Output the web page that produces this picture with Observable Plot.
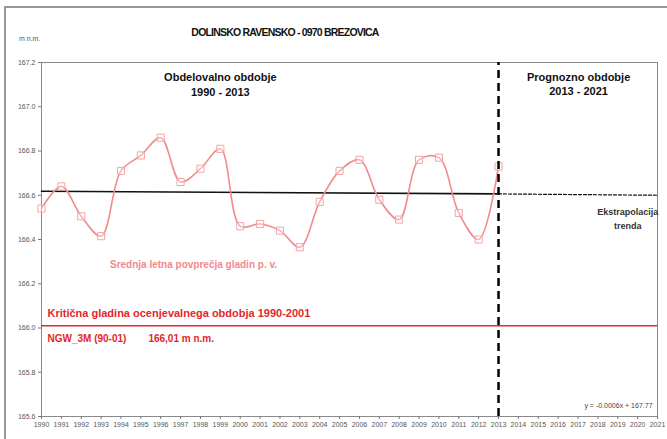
<!DOCTYPE html>
<html>
<head>
<meta charset="utf-8">
<script src="https://cdn.jsdelivr.net/npm/d3@7"></script>
<script src="https://cdn.jsdelivr.net/npm/@observablehq/plot@0.6"></script>
<style>
  html, body { margin: 0; padding: 0; background: #fff; }
  #wrap { position: relative; width: 667px; height: 439px; overflow: hidden; font-family: "Liberation Sans", Arial, sans-serif; }
  #border { position: absolute; left: 4px; top: 6px; width: 700px; height: 500px; border: 2px solid #9a9a9a; box-sizing: border-box; }
  #title { position: absolute; left: 0; width: 570px; top: 26px; text-align: center; font-weight: bold; font-size: 10.5px; letter-spacing: -0.8px; color: #111; }
  #unit { position: absolute; left: 19px; top: 35px; font-size: 7px; color: #555; }
  #chart { position: absolute; left: 0; top: 0; }
</style>
</head>
<body>
<div id="wrap">
  <div id="border"></div>
  <div id="title">DOLINSKO RAVENSKO - 0970 BREZOVICA</div>
  <div id="unit">m n.m.</div>
  <div id="chart"></div>
</div>
<script>
const years = [1990,1991,1992,1993,1994,1995,1996,1997,1998,1999,2000,2001,2002,2003,2004,2005,2006,2007,2008,2009,2010,2011,2012,2013];
const levels = [166.54,166.64,166.505,166.415,166.71,166.78,166.86,166.66,166.72,166.81,166.46,166.47,166.44,166.365,166.57,166.71,166.76,166.58,166.49,166.76,166.77,166.52,166.40,166.73];

const trendYears = [1990, 2013];
const trendValues = [166.618, 166.606];
const extrapYears = [2013, 2021];
const extrapValues = [166.606, 166.600];

const criticalLevel = 166.01;
const splitYear = 2013;

const xTicks = d3.range(1990, 2022);
const yTicks = [165.6,165.8,166.0,166.2,166.4,166.6,166.8,167.0,167.2];

const series = years.map((y, i) => ({year: y, level: levels[i]}));
const trend = trendYears.map((y, i) => ({year: y, level: trendValues[i]}));
const extrap = extrapYears.map((y, i) => ({year: y, level: extrapValues[i]}));

const lineColor = "#f08a8c";
const red = "#e3262b";
const bold = {fontWeight: "bold", fontFamily: "Liberation Sans, Arial, sans-serif"};

const chart = Plot.plot({
  width: 667,
  height: 439,
  marginLeft: 41,
  marginRight: 10,
  marginTop: 62,
  marginBottom: 23,
  style: {fontFamily: "Liberation Sans, Arial, sans-serif", background: "transparent"},
  x: {domain: [1990, 2021], ticks: xTicks, tickFormat: "d", tickSize: 3, label: null},
  y: {domain: [165.6, 167.2], ticks: yTicks, tickFormat: ".1f", tickSize: 3, label: null},
  marks: [
    Plot.frame({stroke: "#8a8a8a", strokeWidth: 1}),
    Plot.axisX({ticks: xTicks, tickFormat: "d", tickSize: 3, tickPadding: 3, fontSize: 7, color: "#555", stroke: "#777"}),
    Plot.axisY({ticks: yTicks, tickFormat: ".1f", tickSize: 3, tickPadding: 3, fontSize: 7, color: "#555", stroke: "#777"}),
    Plot.ruleY([criticalLevel], {x1: 1990, x2: 2021, stroke: red, strokeWidth: 1.5}),
    Plot.line(trend, {x: "year", y: "level", stroke: "#111", strokeWidth: 1.6}),
    Plot.line(extrap, {x: "year", y: "level", stroke: "#111", strokeWidth: 1.2, strokeDasharray: "3,2"}),
    Plot.line(series, {x: "year", y: "level", stroke: lineColor, strokeWidth: 1.6, curve: "catmull-rom"}),
    Plot.dot(series, {x: "year", y: "level", symbol: "square", r: 4, stroke: "#f4a3a4", strokeWidth: 1, fill: "#fff", fillOpacity: 0.35}),
    Plot.ruleX([splitYear], {y1: 165.6, y2: 167.2, stroke: "#000", strokeWidth: 2.5, strokeDasharray: "8,5"}),
    Plot.text(["Obdelovalno obdobje"], {x: 1999.0, y: 167.132, text: d => d, fontSize: 11, fill: "#111", ...bold}),
    Plot.text(["1990 - 2013"], {x: 1999.0, y: 167.064, text: d => d, fontSize: 11, fill: "#111", ...bold}),
    Plot.text(["Prognozno obdobje"], {x: 2017.03, y: 167.132, text: d => d, fontSize: 11, fill: "#111", ...bold}),
    Plot.text(["2013 - 2021"], {x: 2017.03, y: 167.068, text: d => d, fontSize: 11, fill: "#111", ...bold}),
    Plot.text(["Ekstrapolacija"], {x: 2019.5, y: 166.525, text: d => d, fontSize: 9, fill: "#333", ...bold}),
    Plot.text(["trenda"], {x: 2019.5, y: 166.462, text: d => d, fontSize: 9, fill: "#333", ...bold}),
    Plot.text(["Srednja letna povprečja gladin p. v."], {x: 1997.65, y: 166.287, text: d => d, fontSize: 10, fill: lineColor, ...bold}),
    Plot.text(["Kritična gladina ocenjevalnega obdobja 1990-2001"], {x: 1990.3, y: 166.066, text: d => d, textAnchor: "start", fontSize: 11, fill: red, ...bold}),
    Plot.text(["NGW_3M (90-01)"], {x: 1990.3, y: 165.953, text: d => d, textAnchor: "start", fontSize: 10, fill: red, ...bold}),
    Plot.text(["166,01 m n.m."], {x: 1995.38, y: 165.953, text: d => d, textAnchor: "start", fontSize: 10, fill: red, ...bold}),
    Plot.text(["y = -0.0006x + 167.77"], {x: 2020.75, y: 165.65, text: d => d, textAnchor: "end", fontSize: 7, fill: "#444"})
  ]
});
document.getElementById("chart").appendChild(chart);
</script>
</body>
</html>
